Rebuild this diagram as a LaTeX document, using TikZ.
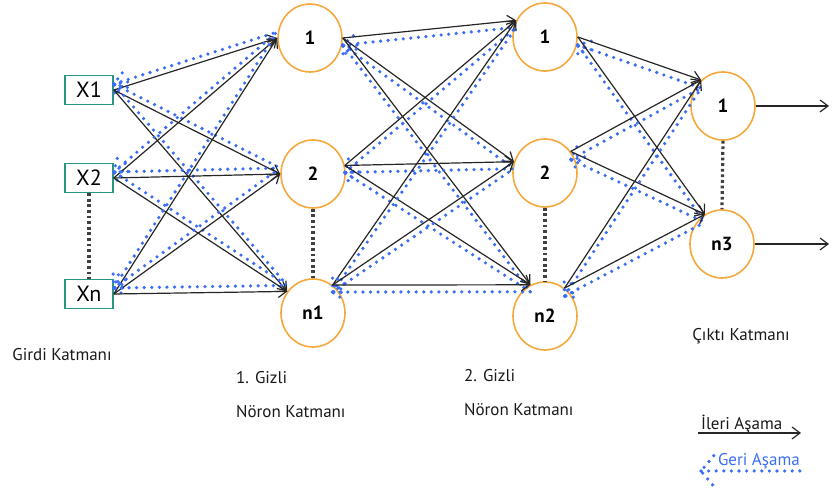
\documentclass[tikz,border=0pt]{standalone}
\usepackage{fontspec}
\setmainfont{PT Sans}
\usepackage{tikz}
\usetikzlibrary{positioning}
\usetikzlibrary{calc}
\usetikzlibrary{arrows.meta}
\usetikzlibrary{shapes.geometric}

\definecolor{katmanturuncu}{RGB}{245,168,60}
\definecolor{girdiyesil}{RGB}{40,150,130}
\definecolor{gerimavi}{RGB}{60,110,245}

\begin{document}
\begin{tikzpicture}[x=0.5pt, y=-0.5pt,
	ileri/.style={draw=black!85, line width=0.6pt, -{Straight Barb[length=4pt,width=6pt]}},
	geri/.style={draw=gerimavi, line width=1.8pt, line cap=round, dash pattern=on 0pt off 3.8pt},
	ayrac/.style={draw=black!75, line width=1.6pt, dash pattern=on 1.4pt off 1.4pt},
	yazi/.style={text=black!90, font=\fontsize{8.5}{10}\selectfont}]
		\useasboundingbox (0,0) rectangle (832,496);
		\begin{scope}[every node/.style={draw=girdiyesil, line width=0.8pt, minimum width=24pt, minimum height=14.5pt, inner sep=0pt, font=\fontsize{11}{12}\selectfont}]
			\node (x1) at (89,90)  {X1};
			\node (x2) at (89,178) {X2};
			\node (xn) at (89,294) {Xn};
		\end{scope}
		\begin{scope}[every node/.style={draw=katmanturuncu, fill=white, ellipse, line width=0.8pt, minimum width=32pt, minimum height=34pt, inner sep=0pt, font=\bfseries\fontsize{9.5}{11}\selectfont}]
			\node (h11) at (310,38)  {1};
			\node (h12) at (313,174) {2};
			\node (h1n) at (313,313) {n1};
			\node (h21) at (545,37)  {1};
			\node (h22) at (545,173) {2};
			\node (h2n) at (545,316) {n2};
			\node (o1)  at (723,106) {1};
			\node (on)  at (722,244) {n3};
		\end{scope}
		\draw[ayrac] (x2.south) -- (xn.north);
		\draw[ayrac] (h12.south) -- (h1n.north);
		\draw[ayrac] (h22.south) -- (h2n.north);
		\draw[ayrac] (o1.south) -- (on.north);
		% girdi -> 1. gizli
		\foreach \kay/\ka in {x1/east,x2/east,xn/east}
			\foreach \hed/\ha in {h11/180,h12/180,h1n/140}{
				\coordinate (p) at ($(\kay.\ka)+(0,-6)$);
				\coordinate (q) at ($(\hed.\ha)+(0,-6)$);
				\draw[geri] ($(p)!7pt!35:(q)$) -- (p) -- ($(p)!7pt!-35:(q)$) (p) -- (q);
				\draw[ileri] (\kay.\ka) -- (\hed.\ha);
			}
		% 1. gizli -> 2. gizli
		\foreach \kay/\ka in {h11/0,h12/15,h1n/55}
			\foreach \hed/\ha in {h21/150,h22/160,h2n/115}{
				\coordinate (p) at ($(\kay.\ka)+(0,7)$);
				\coordinate (q) at ($(\hed.\ha)+(0,7)$);
				\draw[geri] ($(p)!7pt!35:(q)$) -- (p) -- ($(p)!7pt!-35:(q)$) (p) -- (q);
				\draw[ileri] (\kay.\ka) -- (\hed.\ha);
			}
		% 2. gizli -> cikti
		\foreach \kay/\ka in {h21/0,h22/40,h2n/55}
			\foreach \hed/\ha in {o1/130,on/120}{
				\coordinate (p) at ($(\kay.\ka)+(0,8)$);
				\coordinate (q) at ($(\hed.\ha)+(0,8)$);
				\draw[geri] ($(p)!7pt!35:(q)$) -- (p) -- ($(p)!7pt!-35:(q)$) (p) -- (q);
				\draw[ileri] (\kay.\ka) -- (\hed.\ha);
			}
		\coordinate (y1) at (829,106);
		\coordinate (yn) at (829,244);
		\draw[ileri] (o1.east) -- (y1);
		\draw[ileri] (on.east) -- (yn);
		% katman adlari
		\node[yazi] (girdi) at (62,355) {Girdi Katmanı};
		\node[yazi, anchor=west] (gizli1) at (229,378) {1. Gizli};
		\node[yazi, anchor=west] (noron1) at (229,412) {Nöron Katmanı};
		\node[yazi, anchor=west] (gizli2) at (457,376) {2. Gizli};
		\node[yazi, anchor=west] (noron2) at (457,410) {Nöron Katmanı};
		\node[yazi] (cikti) at (741,336) {Çıktı Katmanı};
		% aciklama
		\node[yazi, anchor=west] (ileriyazi) at (694,424) {İleri Aşama};
		\coordinate (i1) at (698,433);
		\coordinate (i2) at (801,433);
		\draw[ileri] (i1) -- (i2);
		\node[yazi, anchor=west, text=gerimavi] (geriyazi) at (711,461) {Geri Aşama};
		\coordinate (g1) at (701,471);
		\coordinate (g2) at (806,471);
		\draw[geri] ($(g1)!10pt!50:(g2)$) -- (g1) -- ($(g1)!10pt!-50:(g2)$) (g1) -- (g2);
	\end{tikzpicture}
\end{document}
